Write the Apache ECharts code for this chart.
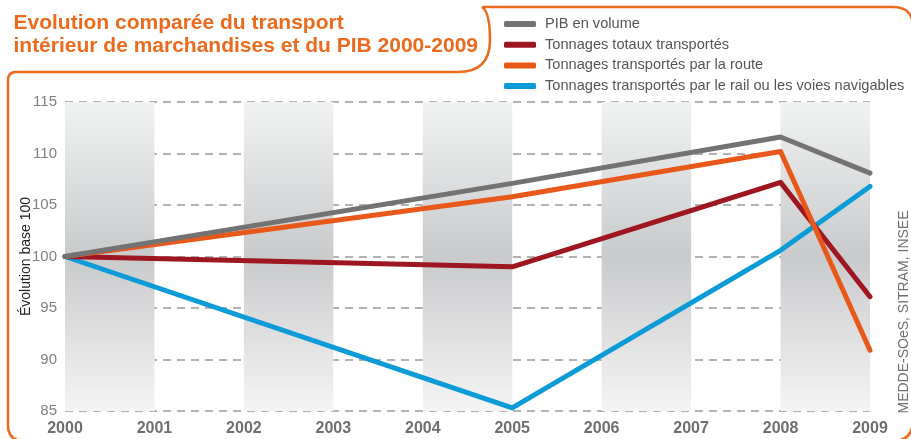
<!DOCTYPE html>
<html>
<head>
<meta charset="utf-8">
<style>
  html, body { margin: 0; padding: 0; background: #fff; }
  #chart { width: 911px; height: 439px; }
</style>
<script src="https://cdn.jsdelivr.net/npm/echarts@6/dist/echarts.min.js"></script>
</head>
<body>
<div id="chart"></div>
<script>
// données (base 100 en 2000)
const years = ["2000", "2001", "2002", "2003", "2004", "2005", "2006", "2007", "2008", "2009"];
const pibVolume = [100, null, null, null, null, 107.1, null, null, 111.6, 108.1];
const tonnagesTotaux = [100, null, null, null, null, 99.0, null, null, 107.2, 96.1];
const tonnagesRoute = [100, null, null, null, null, 105.8, null, null, 110.2, 90.9];
const tonnagesRailVoies = [100, null, null, null, null, 85.3, null, null, 100.6, 106.8];
const yTicks = { min: 85, max: 115, interval: 5 };

const ORANGE = "#ea6a1e";
const TEXT_GREY = "#6f6f6f";

const chart = echarts.init(document.getElementById("chart"), null, { renderer: "canvas" });

const bandGradient = {
  type: "linear",
  x: 0, y: 0, x2: 0, y2: 1,
  colorStops: [
    { offset: 0, color: "#f1f2f2" },
    { offset: 0.5, color: "#c9cacc" },
    { offset: 1, color: "#f4f4f4" },
  ],
};

function lineSeries(name, data, color) {
  return {
    name,
    type: "line",
    data,
    connectNulls: true,
    showSymbol: false,
    symbol: "none",
    lineStyle: { width: 5, color, cap: "round", join: "round" },
    itemStyle: { color },
    emphasis: { disabled: true },
  };
}

const frameStyle = { fill: null, stroke: ORANGE, lineWidth: 2.5 };

function frameLine(points) {
  return { type: "polyline", silent: true, shape: { points }, style: frameStyle };
}

function frameCurve(x1, y1, cpx1, cpy1, x2, y2) {
  return { type: "bezierCurve", silent: true, shape: { x1, y1, cpx1, cpy1, x2, y2 }, style: frameStyle };
}

chart.setOption({
  animation: false,
  grid: { left: 65, right: 41, top: 102, bottom: 28 },
  graphic: [
    frameLine([[8, 80], [8, 425]]),
    frameCurve(8, 425, 8, 441, 24, 441),
    frameCurve(8, 80, 8, 72, 16, 72),
    frameLine([[16, 72], [458, 72]]),
    frameCurve(458, 72, 490, 72, 490, 40),
    frameCurve(490, 40, 490, 12, 482, 7),
    frameLine([[482, 7], [893, 7]]),
    frameCurve(893, 7, 913, 7, 913, 27),
    frameCurve(913, 420, 913, 441, 893, 441),
    {
      type: "text",
      right: 433,
      top: 12,
      silent: true,
      style: {
        text: "Evolution comparée du transport\nintérieur de marchandises et du PIB 2000-2009",
        align: "right",
        font: "bold 21px 'Liberation Sans', sans-serif",
        lineHeight: 23,
        fill: ORANGE,
      },
    },
    {
      type: "text",
      x: 904,
      y: 312,
      rotation: Math.PI / 2,
      silent: true,
      style: {
        text: "MEDDE-SOeS, SITRAM, INSEE",
        align: "center",
        verticalAlign: "middle",
        font: "14px 'Liberation Sans', sans-serif",
        fill: TEXT_GREY,
      },
    },
  ],
  legend: {
    orient: "vertical",
    left: 499,
    top: 11,
    itemWidth: 32,
    itemHeight: 6,
    itemGap: 4.7,
    icon: "roundRect",
    selectedMode: false,
    data: [
      "PIB en volume",
      "Tonnages totaux transportés",
      "Tonnages transportés par la route",
      "Tonnages transportés par le rail ou les voies navigables",
    ],
    textStyle: {
      color: "#555",
      fontSize: 14.6,
      lineHeight: 16,
      padding: [0, 0, 0, 4],
      fontFamily: "'Liberation Sans', sans-serif",
    },
  },
  xAxis: {
    type: "category",
    data: years,
    boundaryGap: false,
    axisLine: { show: false },
    axisTick: { show: false },
    axisLabel: {
      color: TEXT_GREY,
      fontWeight: "bold",
      fontSize: 16,
      fontFamily: "'Liberation Sans', sans-serif",
      margin: 10,
    },
    splitLine: { show: false },
    splitArea: {
      show: true,
      areaStyle: { color: [bandGradient, "rgba(255,255,255,0)"] },
    },
  },
  yAxis: {
    type: "value",
    min: yTicks.min,
    max: yTicks.max,
    interval: yTicks.interval,
    name: "Évolution base 100",
    nameLocation: "middle",
    nameGap: 32,
    nameRotate: 90,
    nameMoveOverlap: false,
    nameTextStyle: {
      color: "#222",
      fontSize: 14,
      fontFamily: "'Liberation Sans', sans-serif",
    },
    axisLine: { show: false },
    axisTick: { show: false },
    axisLabel: {
      color: "#808080",
      fontSize: 15,
      fontFamily: "'Liberation Sans', sans-serif",
      margin: 8,
    },
    splitLine: {
      lineStyle: { color: "#999", width: 1.5, type: [8, 6] },
    },
  },
  series: [
    lineSeries("Tonnages transportés par le rail ou les voies navigables", tonnagesRailVoies, "#0b9cd8"),
    lineSeries("Tonnages totaux transportés", tonnagesTotaux, "#9d1620"),
    lineSeries("Tonnages transportés par la route", tonnagesRoute, "#e8581a"),
    lineSeries("PIB en volume", pibVolume, "#737373"),
  ],
});
</script>
</body>
</html>
